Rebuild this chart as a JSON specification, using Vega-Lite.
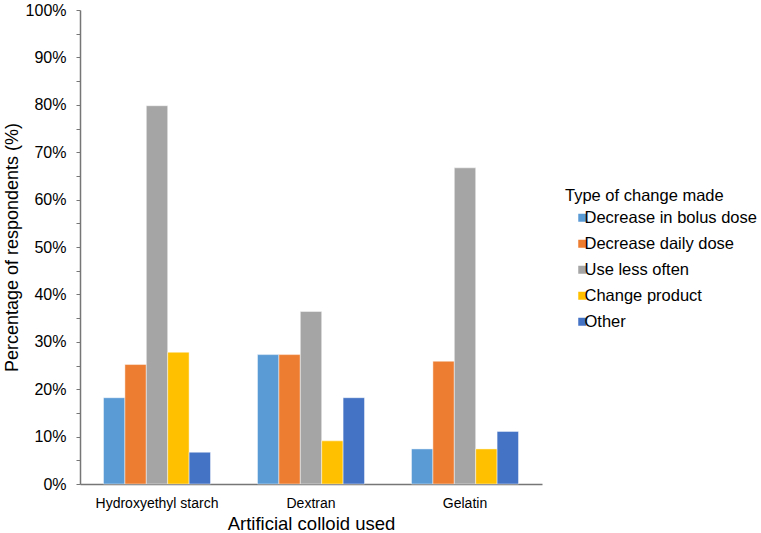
{
  "$schema": "https://vega.github.io/schema/vega-lite/v6.json",
  "width": 462,
  "height": 474,
  "autosize": "none",
  "padding": {"left": 80, "top": 10, "right": 219, "bottom": 49},
  "background": "white",
  "config": {
    "font": "Liberation Sans",
    "view": {"stroke": null},
    "axis": {"labelColor": "#000000", "titleColor": "#000000", "titleFontWeight": "normal", "domainColor": "#767676", "tickColor": "#767676"}
  },
  "data": {
    "values": [
      {"colloid": "Hydroxyethyl starch", "change": "Decrease in bolus dose", "pct": 0.182},
      {"colloid": "Hydroxyethyl starch", "change": "Decrease daily dose", "pct": 0.252},
      {"colloid": "Hydroxyethyl starch", "change": "Use less often", "pct": 0.798},
      {"colloid": "Hydroxyethyl starch", "change": "Change product", "pct": 0.278},
      {"colloid": "Hydroxyethyl starch", "change": "Other", "pct": 0.067},
      {"colloid": "Dextran", "change": "Decrease in bolus dose", "pct": 0.273},
      {"colloid": "Dextran", "change": "Decrease daily dose", "pct": 0.273},
      {"colloid": "Dextran", "change": "Use less often", "pct": 0.364},
      {"colloid": "Dextran", "change": "Change product", "pct": 0.091},
      {"colloid": "Dextran", "change": "Other", "pct": 0.182},
      {"colloid": "Gelatin", "change": "Decrease in bolus dose", "pct": 0.074},
      {"colloid": "Gelatin", "change": "Decrease daily dose", "pct": 0.259},
      {"colloid": "Gelatin", "change": "Use less often", "pct": 0.667},
      {"colloid": "Gelatin", "change": "Change product", "pct": 0.074},
      {"colloid": "Gelatin", "change": "Other", "pct": 0.111}
    ]
  },
  "mark": {"type": "bar", "stroke": "#ffffff", "strokeOpacity": 0.45, "strokeWidth": 1},
  "encoding": {
    "x": {
      "field": "colloid",
      "type": "nominal",
      "sort": ["Hydroxyethyl starch", "Dextran", "Gelatin"],
      "scale": {"paddingInner": 0.305, "paddingOuter": 0.1525},
      "axis": {
        "title": "Artificial colloid used",
        "titleFontSize": 18.5,
        "titleBaseline": "alphabetic",
        "titleY": 45,
        "labelAngle": 0,
        "labelFontSize": 14,
        "labelPadding": 12,
        "ticks": false,
        "domainWidth": 1.5
      }
    },
    "xOffset": {
      "field": "change",
      "type": "nominal",
      "sort": ["Decrease in bolus dose", "Decrease daily dose", "Use less often", "Change product", "Other"],
      "scale": {"paddingInner": 0, "paddingOuter": 0}
    },
    "y": {
      "field": "pct",
      "type": "quantitative",
      "scale": {"domain": [0, 1], "nice": false},
      "axis": {
        "title": "Percentage of respondents (%)",
        "titleFontSize": 18,
        "titleX": -68,
        "titleY": 237,
        "titleAngle": -90,
        "titleAlign": "center",
        "titleBaseline": "middle",
        "grid": false,
        "values": [0, 0.05, 0.1, 0.15, 0.2, 0.25, 0.3, 0.35, 0.4, 0.45, 0.5, 0.55, 0.6, 0.65, 0.7, 0.75, 0.8, 0.85, 0.9, 0.95, 1],
        "labelExpr": "round(datum.value * 100) % 10 == 0 ? round(datum.value * 100) + '%' : ''",
        "labelFontSize": 16,
        "labelPadding": 10,
        "tickSize": 4,
        "domainWidth": 1.5
      }
    },
    "color": {
      "field": "change",
      "type": "nominal",
      "sort": ["Decrease in bolus dose", "Decrease daily dose", "Use less often", "Change product", "Other"],
      "scale": {
        "domain": ["Decrease in bolus dose", "Decrease daily dose", "Use less often", "Change product", "Other"],
        "range": ["#5b9bd5", "#ed7d31", "#a5a5a5", "#ffc000", "#4472c4"]
      },
      "legend": {
        "title": "Type of change made",
        "orient": "none",
        "legendX": 485,
        "legendY": 178,
        "padding": 0,
        "titleFontSize": 16.5,
        "titleFontWeight": "normal",
        "titleColor": "#000000",
        "titlePadding": 5,
        "labelFontSize": 16.5,
        "labelColor": "#000000",
        "labelOffset": -6,
        "symbolType": "square",
        "symbolSize": 64,
        "symbolOffset": 9,
        "symbolStrokeWidth": 0,
        "rowPadding": 9,
        "labelLimit": 300
      }
    }
  }
}
